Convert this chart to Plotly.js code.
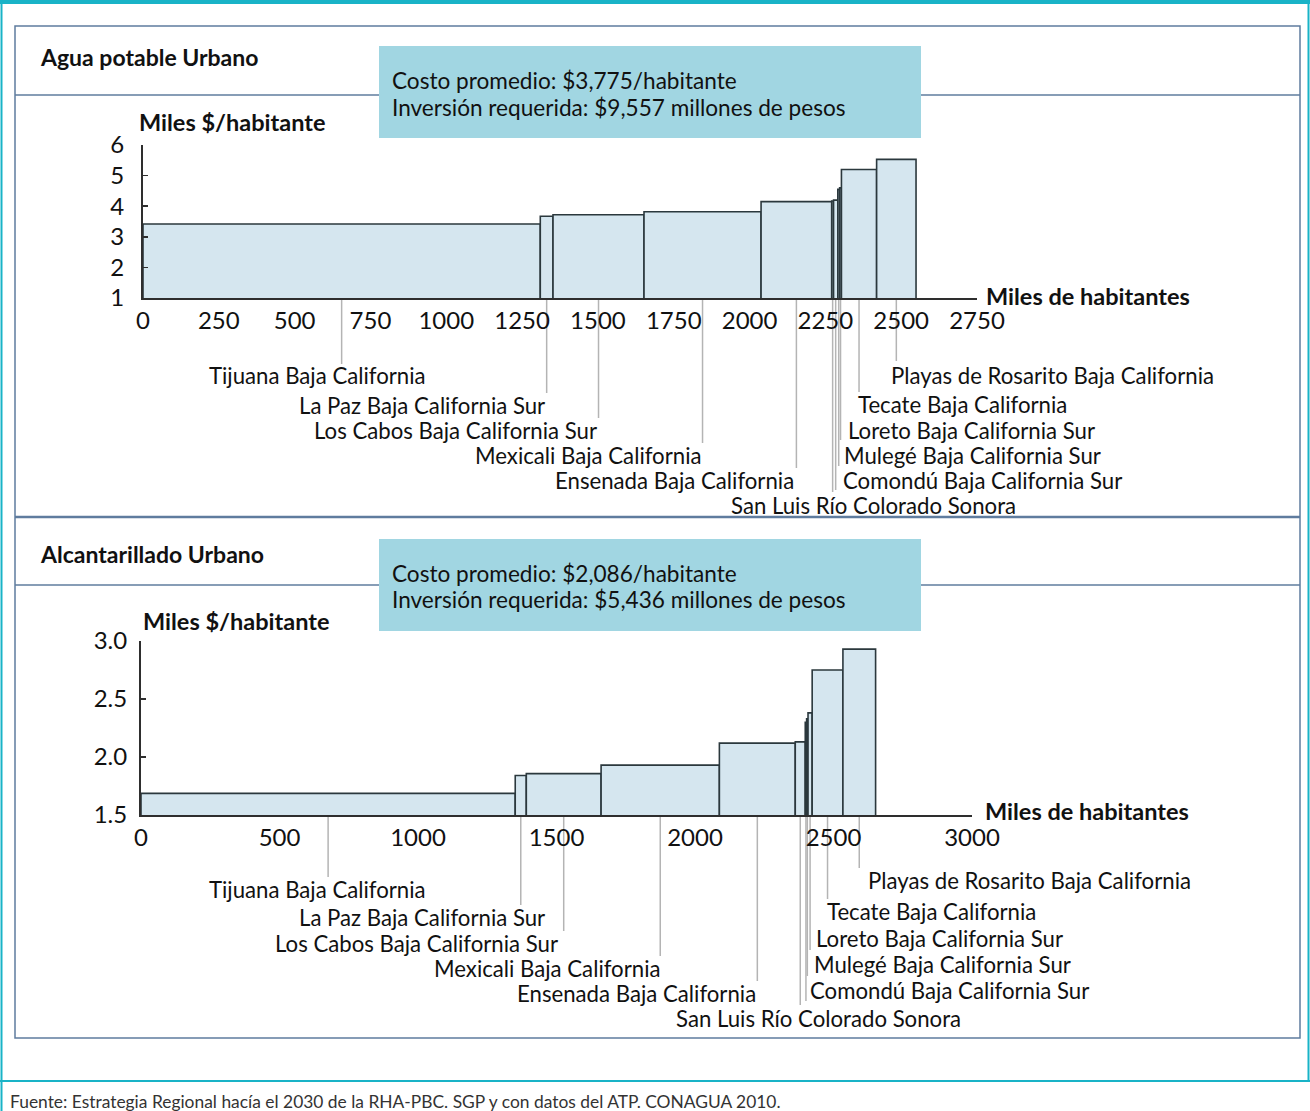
<!DOCTYPE html>
<html>
<head>
<meta charset="utf-8">
<script src="https://cdn.plot.ly/plotly-3.0.1.min.js"></script>
<style>html,body{margin:0;padding:0;background:#fff;}#chart{width:1310px;height:1111px;}</style>
</head>
<body>
<div id="chart"></div>
<script>
// ---- DATA ----
const cities = [
  "Tijuana Baja California",
  "La Paz Baja California Sur",
  "Los Cabos Baja California Sur",
  "Mexicali Baja California",
  "Ensenada Baja California",
  "San Luis Río Colorado Sonora",
  "Comondú Baja California Sur",
  "Mulegé Baja California Sur",
  "Loreto Baja California Sur",
  "Tecate Baja California",
  "Playas de Rosarito Baja California"
];
// Agua potable Urbano: population (miles de habitantes) and cost (miles $/habitante)
const aguaPob   = [1310, 42, 300, 386, 233, 6, 14, 6, 6, 116, 130];
const aguaCosto = [3.42, 3.67, 3.72, 3.82, 4.15, 4.17, 4.2, 4.55, 4.6, 5.2, 5.53];
// Alcantarillado Urbano
const alcPob   = [1351, 40, 270, 427, 274, 36, 5, 5, 15, 111, 118];
const alcCosto = [1.686, 1.84, 1.857, 1.93, 2.12, 2.13, 2.30, 2.33, 2.38, 2.75, 2.93];

const aguaXTicks = [0, 250, 500, 750, 1000, 1250, 1500, 1750, 2000, 2250, 2500, 2750];
const aguaYTicks = [1, 2, 3, 4, 5, 6];
const alcXTicks = [0, 500, 1000, 1500, 2000, 2500, 3000];
const alcYTicks = [1.5, 2.0, 2.5, 3.0];
const alcYTickText = ["1.5", "2.0", "2.5", "3.0"];

const aguaTitle = "Agua potable Urbano";
const alcTitle = "Alcantarillado Urbano";
const aguaInfo = ["Costo promedio: $3,775/habitante", "Inversión requerida: $9,557 millones de pesos"];
const alcInfo = ["Costo promedio: $2,086/habitante", "Inversión requerida: $5,436 millones de pesos"];
const yTitle = "Miles $/habitante";
const xTitle = "Miles de habitantes";
const fuente = "Fuente: Estrategia Regional hacía el 2030 de la RHA-PBC. SGP y con datos del ATP. CONAGUA 2010.";

// ---- LAYOUT HELPERS (pixel -> paper) ----
const W = 1310, H = 1111;
const px = v => v / W;
const py = v => 1 - v / H;
const FONT = "Lato, 'Open Sans', sans-serif";

function centers(widths) {
  const c = []; let s = 0;
  for (const w of widths) { c.push(s + w / 2); s += w; }
  return c;
}

// label placement (pixel positions; layout only)
// [labelX, labelY, xanchor, leaderEndY]
const aguaLabelPos = [
  [208, 376, 'left', 364],
  [546, 405, 'right', 393],
  [598, 430.5, 'right', 418],
  [703, 455.5, 'right', 443],
  [795, 480.5, 'right', 468],
  [730, 505.5, 'left', 492],
  [842, 480, 'left', 490],
  [843, 455, 'left', 466],
  [847, 430, 'left', 440],
  [857, 404.5, 'left', 392],
  [890, 375, 'left', 361]
];
const alcLabelPos = [
  [208, 889, 'left', 877],
  [546, 917.5, 'right', 905],
  [559, 943, 'right', 931],
  [662, 968, 'right', 956],
  [757, 993, 'right', 981],
  [675, 1018, 'left', 1005],
  [809, 990, 'left', 1001],
  [813, 964.5, 'left', 976],
  [815, 938.5, 'left', 950],
  [826, 911, 'left', 899],
  [867, 880, 'left', 868]
];

const barStyle = {color: '#d5e6ef', line: {color: '#2b383d', width: 1.6}};

const traces = [
  {type: 'bar', x: centers(aguaPob), y: aguaCosto, width: aguaPob, xaxis: 'x', yaxis: 'y',
   marker: barStyle, hoverinfo: 'skip', showlegend: false},
  {type: 'bar', x: centers(alcPob), y: alcCosto, width: alcPob, xaxis: 'x2', yaxis: 'y2',
   marker: barStyle, hoverinfo: 'skip', showlegend: false}
];

const axisCommon = {
  showgrid: false, zeroline: false, showline: true, linecolor: '#2e2e2e', linewidth: 2,
  tickfont: {family: FONT, size: 24, color: '#111'}, fixedrange: true
};

const shapes = [];
const annotations = [];

// teal outer frame
const TEAL = '#19b3c7';
shapes.push({type: 'rect', xref: 'paper', yref: 'paper', x0: 0, x1: 1, y0: py(4), y1: 1, fillcolor: TEAL, line: {width: 0}, layer: 'below'});
shapes.push({type: 'line', xref: 'paper', yref: 'paper', x0: px(1.5), x1: px(1.5), y0: 0, y1: 1, line: {color: TEAL, width: 2}});
shapes.push({type: 'line', xref: 'paper', yref: 'paper', x0: px(1308.5), x1: px(1308.5), y0: py(1081), y1: 1, line: {color: TEAL, width: 2}});
shapes.push({type: 'line', xref: 'paper', yref: 'paper', x0: 0, x1: 1, y0: py(1081), y1: py(1081), line: {color: TEAL, width: 2}});

// panel frame (blue-grey)
const PANEL = '#5f7c9e';
shapes.push({type: 'rect', xref: 'paper', yref: 'paper', x0: px(15), x1: px(1300), y0: py(1038), y1: py(26), line: {color: PANEL, width: 1.5}, layer: 'below'});
[95, 517, 585].forEach(yy => {
  shapes.push({type: 'line', xref: 'paper', yref: 'paper', x0: px(15), x1: px(1300), y0: py(yy), y1: py(yy),
    line: {color: PANEL, width: yy === 517 ? 2.5 : 1.5}, layer: 'below'});
});

// info boxes
const BOX = '#a1d6e2';
[[46, 138], [539, 631]].forEach(([t, b]) => {
  shapes.push({type: 'rect', xref: 'paper', yref: 'paper', x0: px(379), x1: px(921), y0: py(b), y1: py(t), fillcolor: BOX, line: {width: 0}, layer: 'below'});
});

function txt(text, x, y, opts = {}) {
  annotations.push(Object.assign({
    text: text, xref: 'paper', yref: 'paper', x: px(x), y: py(y), showarrow: false,
    xanchor: 'left', yanchor: 'middle', borderpad: 0,
    font: {family: FONT, size: 22, color: '#111'}
  }, opts));
}

// panel titles
const titleF = {family: FONT, size: 23, color: '#111', weight: 'bold'};
txt(aguaTitle, 39, 57, {font: titleF});
txt(alcTitle, 39, 554, {font: titleF});
// info texts
const infoF = {family: FONT, size: 22.6, color: '#111'};
txt(aguaInfo[0], 391, 80, {font: infoF});
txt(aguaInfo[1], 391, 107, {font: infoF});
txt(alcInfo[0], 391, 573, {font: infoF});
txt(alcInfo[1], 391, 599, {font: infoF});
// axis titles
const boldF = {family: FONT, size: 23.5, color: '#111', weight: 'bold'};
txt(yTitle, 138, 122, {font: boldF});
txt(yTitle, 142, 621, {font: boldF});
txt(xTitle, 985, 296, {font: boldF});
txt(xTitle, 984, 811, {font: boldF});
// footnote
txt(fuente, 9, 1101, {font: {family: FONT, size: 17.4, color: '#333'}});

// city labels + leader lines
const labelF = {family: FONT, size: 22.2, color: '#111'};
function addLabels(pop, posArr, xref, axisY) {
  const c = centers(pop);
  cities.forEach((name, i) => {
    const [lx, ly, anchor, endY] = posArr[i];
    shapes.push({type: 'line', xref: xref, yref: 'paper', x0: c[i], x1: c[i], y0: py(axisY), y1: py(endY),
      line: {color: '#b4b4b4', width: 1.5}, layer: 'below'});
    txt(name, lx, ly, {xanchor: anchor, font: labelF});
  });
}
addLabels(aguaPob, aguaLabelPos, 'x', 299);
addLabels(alcPob, alcLabelPos, 'x2', 816);

const layout = {
  width: W, height: H,
  margin: {l: 0, r: 0, t: 0, b: 0},
  paper_bgcolor: '#ffffff', plot_bgcolor: 'rgba(0,0,0,0)',
  showlegend: false,
  barmode: 'overlay',
  xaxis: Object.assign({}, axisCommon, {
    domain: [px(143), px(977)], range: [0, 2750], anchor: 'y',
    tickmode: 'array', tickvals: aguaXTicks, ticks: '', ticklabelstandoff: 0
  }),
  yaxis: Object.assign({}, axisCommon, {
    domain: [py(298), py(145)], range: [1, 6], anchor: 'x',
    tickmode: 'array', tickvals: aguaYTicks, ticks: 'inside', ticklen: 5, tickwidth: 1.5, tickcolor: '#2e2e2e',
    ticklabelstandoff: 12
  }),
  xaxis2: Object.assign({}, axisCommon, {
    domain: [px(141), px(972)], range: [0, 3000], anchor: 'y2',
    tickmode: 'array', tickvals: alcXTicks, ticks: '', ticklabelstandoff: 0
  }),
  yaxis2: Object.assign({}, axisCommon, {
    domain: [py(815), py(641)], range: [1.5, 3.0], anchor: 'x2',
    tickmode: 'array', tickvals: alcYTicks, ticktext: alcYTickText, ticks: 'inside', ticklen: 5, tickwidth: 1.5, tickcolor: '#2e2e2e',
    ticklabelstandoff: 7
  }),
  shapes: shapes,
  annotations: annotations
};

Plotly.newPlot('chart', traces, layout, {displayModeBar: false, staticPlot: true});
</script>
</body>
</html>
